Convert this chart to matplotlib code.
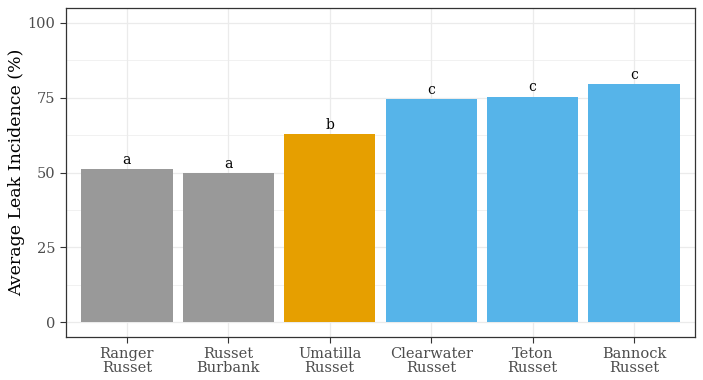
import matplotlib
matplotlib.use("Agg")
import matplotlib.pyplot as plt
from matplotlib.ticker import MultipleLocator

# data
varieties = ["Ranger\nRusset", "Russet\nBurbank", "Umatilla\nRusset",
             "Clearwater\nRusset", "Teton\nRusset", "Bannock\nRusset"]
leak = [51.2, 49.8, 62.9, 74.6, 75.3, 79.6]
letters = ["a", "a", "b", "c", "c", "c"]
colors = ["#999999", "#999999", "#E69F00", "#56B4E9", "#56B4E9", "#56B4E9"]

plt.rcParams["font.family"] = ["DejaVu Serif"]

fig = plt.figure(figsize=(7.03, 3.8), dpi=100)
ax = fig.add_axes([0.0939, 0.113, 0.8947, 0.866])

x = list(range(1, len(varieties) + 1))
ax.bar(x, leak, width=0.9, color=colors, zorder=2)
for xi, v, lab in zip(x, leak, letters):
    ax.text(xi, v + 0.8, lab, ha="center", va="bottom", fontsize=10, color="black", zorder=3)

ax.set_xlim(0.4, 6.6)
ax.set_ylim(-5, 105)
ax.set_xticks(x)
ax.set_xticklabels(varieties, fontsize=10.5, color="#4D4D4D", linespacing=0.95)
ax.set_yticks([0, 25, 50, 75, 100])
ax.yaxis.set_minor_locator(MultipleLocator(12.5))
ax.tick_params(axis="y", labelsize=10.5, labelcolor="#4D4D4D")
ax.tick_params(which="major", length=4, color="#333333", width=0.8)
ax.tick_params(which="minor", length=0)

ax.grid(which="major", color="#EBEBEB", linewidth=0.9, zorder=0)
ax.grid(which="minor", axis="y", color="#EBEBEB", linewidth=0.5, zorder=0)
ax.set_axisbelow(True)
for s in ax.spines.values():
    s.set_color("#333333")
    s.set_linewidth(0.9)

ax.set_ylabel("Average Leak Incidence (%)", fontsize=12.5, color="black", labelpad=2)

fig.savefig("out.png", dpi=100)
